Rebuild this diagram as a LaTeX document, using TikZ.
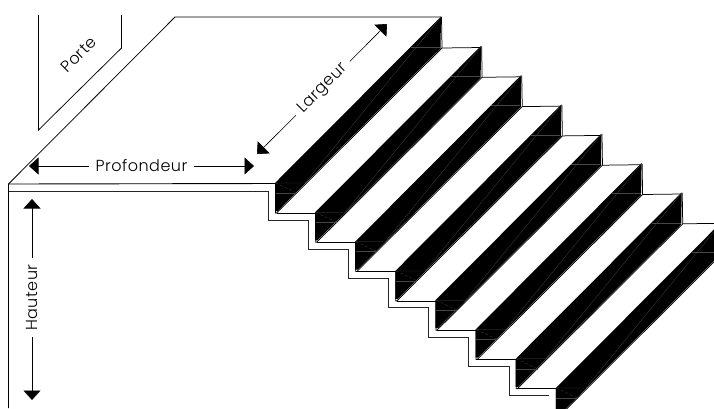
\documentclass[tikz,border=0pt]{standalone}
\usepackage{fontspec}
\setmainfont[LetterSpace=3]{Poppins Light}
\usetikzlibrary{arrows.meta}
\tikzset{
  edge/.style={line width=0.9pt,line join=miter,black},
  thin edge/.style={line width=0.75pt,black},
  faint/.style={line width=0.25pt,black!72!white},
  dim/.style={line width=0.6pt,black,{Triangle[length=9.5pt,width=17pt]}-},
  lab/.style={font=\fontsize{16}{16}\selectfont,inner sep=6.5pt,black}
}
\begin{document}
\begin{tikzpicture}[x=1pt,y=-1pt]
\useasboundingbox (0,0) rectangle (714,408);
\clip (0,0) rectangle (714,408);
% landing
\coordinate (L0) at (8.5,184);
\coordinate (L1) at (175,17);
\coordinate (L2) at (441.5,17);
\draw[thin edge] (8.5,408) -- (L0) -- (L1) -- (L2);
\draw[edge] (L0) -- (275.5,183.5);
% door
\draw[thin edge] (38.5,15) -- (38.5,130) -- (121.5,48) -- (121.5,15);
\node[lab,rotate=45,inner sep=0pt] (porte) at (78.5,54.5) {Porte};
% steps
\foreach \i in {0,...,7}{
  \pgfmathsetmacro{\dx}{40.12*\i}
  \pgfmathsetmacro{\dy}{29.3*\i}
  \begin{scope}[shift={(\dx,\dy)}]
    \fill[black] (275,183) -- (441,16.5) -- (440.5,48.5) -- (277.5,211) -- (275,211) -- cycle;
    \draw[thin edge] (275.5,183) -- (275.5,213) -- (276.5,213) -- (442,48) -- (441.5,17);
    \draw[faint] (275.5,183) -- (305,183) -- (441,17);
    \draw[faint] (275.5,193) -- (297,193);
    \draw[faint,densely dashed] (275.5,183) -- (297,193);
    \draw[faint] (411,47) -- (440,47);
    \draw[thin edge] (276.5,213) -- (316,213);
    \draw[thin edge] (442,48) -- (481,47.5);
  \end{scope}
}
% underside
\draw[edge,black!85!white] (8.5,191) -- (268,191)
  \foreach \i in {0,...,6}{
    -- ({268+40.17*\i},{220+29.3*\i}) -- ({268+40.17*(\i+1)},{220+29.3*\i})
  } ;
% dimensions
\coordinate (pa) at (29,166);
\coordinate (pb) at (254,166);
\node[lab] (prof) at (141.5,166) {Profondeur};
\draw[dim] (pa) -- (prof);
\draw[dim] (pb) -- (prof);
\coordinate (ha) at (32,199);
\coordinate (hb) at (32,400);
\node[lab,rotate=90] (haut) at (32,297.5) {Hauteur};
\draw[dim] (ha) -- (haut);
\draw[dim] (hb) -- (haut);
\coordinate (la) at (387,24);
\coordinate (lb) at (257,154);
\node[lab,rotate=45] (larg) at (323,88.5) {Largeur};
\draw[dim] (la) -- (larg);
\draw[dim] (lb) -- (larg);
\end{tikzpicture}
\end{document}
